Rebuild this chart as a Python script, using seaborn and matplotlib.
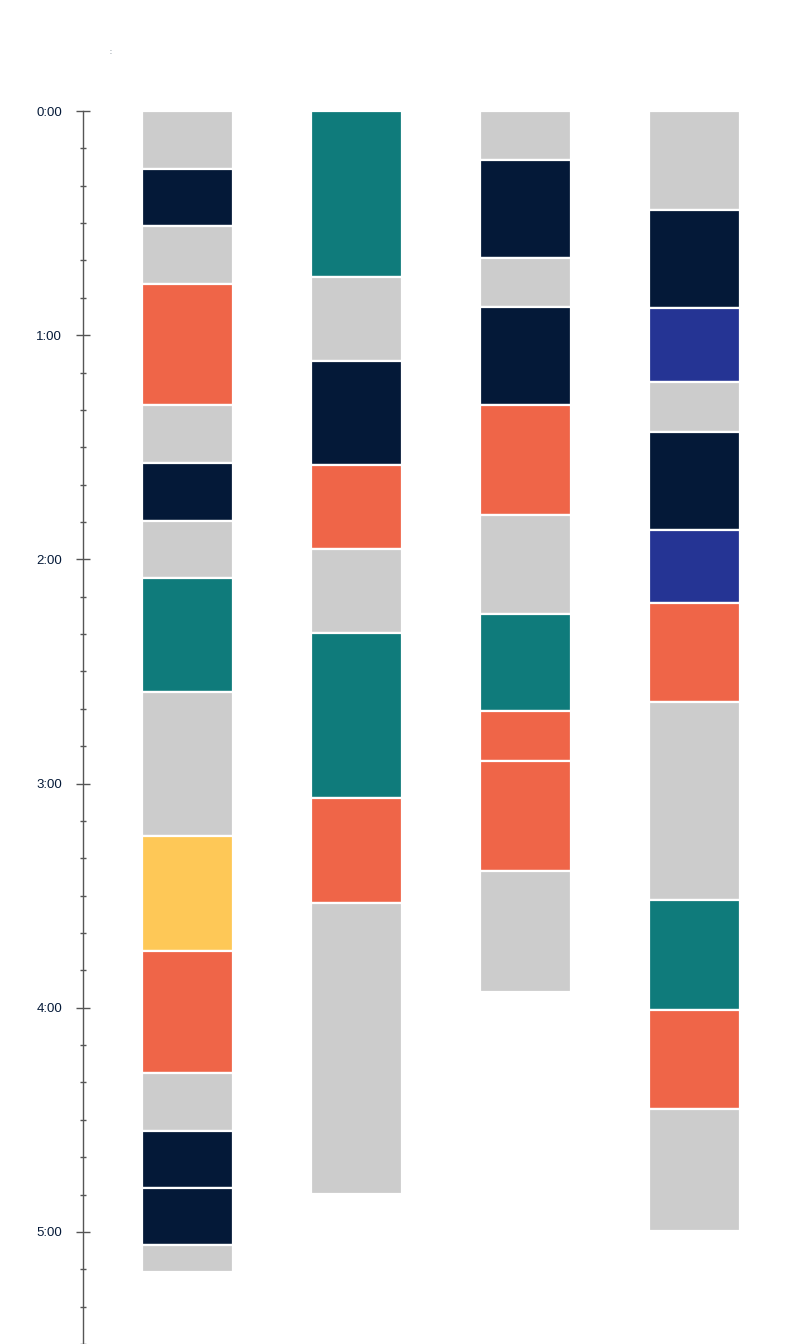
import seaborn as sns
import matplotlib.pyplot as plt
from matplotlib.ticker import MultipleLocator, FuncFormatter

sns.set_style("white")
plt.rcParams["font.family"] = ["Liberation Sans", "DejaVu Sans"]

# segment colours
GRAY = "#cccccc"
NAVY = "#041938"
TEAL = "#0f7b7b"
ORANGE = "#ef6548"
YELLOW = "#fec857"
BLUE = "#253494"

# segment durations (minutes) and colours for each column, top to bottom
col1_minutes = [15.5, 15.3, 15.5, 32.5, 15.5, 15.3, 15.5, 30.3, 38.6, 30.8, 32.6, 15.6, 15.2, 15.3, 7.2]
col1_colors = [GRAY, NAVY, GRAY, ORANGE, GRAY, NAVY, GRAY, TEAL, GRAY, YELLOW, ORANGE, GRAY, NAVY, NAVY, GRAY]

col2_minutes = [44.5, 22.5, 27.8, 22.3, 22.5, 44.4, 27.9, 77.9]
col2_colors = [TEAL, GRAY, NAVY, ORANGE, GRAY, TEAL, ORANGE, GRAY]

col3_minutes = [13.1, 26.3, 13.1, 26.3, 29.4, 26.3, 26.2, 13.2, 29.4, 32.4]
col3_colors = [GRAY, NAVY, GRAY, NAVY, ORANGE, GRAY, TEAL, ORANGE, ORANGE, GRAY]

col4_minutes = [26.5, 26.3, 19.8, 13.4, 26.2, 19.6, 26.5, 52.8, 29.5, 26.5, 32.7]
col4_colors = [GRAY, NAVY, BLUE, GRAY, NAVY, BLUE, ORANGE, GRAY, TEAL, ORANGE, GRAY]

columns = [
    (col1_minutes, col1_colors),
    (col2_minutes, col2_colors),
    (col3_minutes, col3_colors),
    (col4_minutes, col4_colors),
]

fig = plt.figure(figsize=(8, 13.44), dpi=100)
ax = fig.add_axes([83 / 800, 0, 1 - 83 / 800, 1 - 111 / 1344])

for i, (mins, cols) in enumerate(columns):
    bottom = 0
    for m, c in zip(mins, cols):
        ax.bar(i, m, bottom=bottom, width=0.54, color=c,
               edgecolor="white", linewidth=1.6)
        bottom += m

ax.set_ylim(330, 0)
ax.set_xlim(-0.618, 3.624)

# axis styling
for s in ["top", "right", "bottom"]:
    ax.spines[s].set_visible(False)
ax.spines["left"].set_color("#555555")
ax.spines["left"].set_linewidth(1)
ax.set_xticks([])
ax.yaxis.set_major_locator(MultipleLocator(60))
ax.yaxis.set_minor_locator(MultipleLocator(10))
ax.yaxis.set_major_formatter(FuncFormatter(lambda v, p: f"{int(v // 60)}:{int(v % 60):02d}"))
ax.tick_params(axis="y", which="major", direction="inout", length=10, width=1,
               color="#555555", labelsize=9.5, labelcolor="#041938", pad=10, left=True)
ax.tick_params(axis="y", which="minor", direction="inout", length=5, width=1,
               color="#555555", left=True)

fig.text(110 / 800, 1 - 52 / 1344, ":", fontsize=5, color="#445566", ha="center", va="center")

plt.savefig("out.png", dpi=100)
plt.close()
